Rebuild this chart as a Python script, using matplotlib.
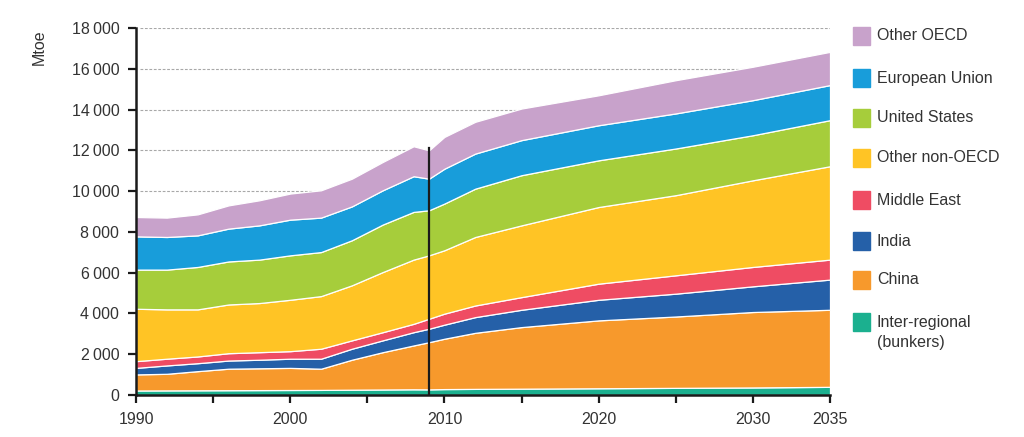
import matplotlib
matplotlib.use("Agg")
import matplotlib.pyplot as plt
from matplotlib.patches import Rectangle

plt.rcParams['font.family'] = ['Liberation Sans', 'DejaVu Sans']

years = [1990, 1992, 1994, 1996, 1998, 2000, 2002, 2004, 2006, 2008, 2009,
         2010, 2012, 2015, 2020, 2025, 2030, 2035]

bunkers = [220, 225, 230, 235, 240, 245, 250, 260, 270, 280, 275,
           290, 300, 310, 330, 350, 370, 400]
china = [790, 815, 940, 1055, 1070, 1085, 1040, 1470, 1830, 2150, 2315,
         2470, 2750, 3020, 3330, 3500, 3700, 3780]
india = [320, 410, 390, 400, 420, 450, 490, 540, 580, 650, 660,
         690, 770, 850, 1010, 1120, 1260, 1480]
middle_east = [330, 330, 330, 360, 370, 370, 490, 410, 400, 410, 490,
               540, 570, 620, 790, 900, 950, 980]
other_non_oecd = [2570, 2420, 2310, 2390, 2410, 2520, 2580, 2700, 2950, 3150, 3110,
                  3110, 3360, 3520, 3760, 3930, 4250, 4580]
united_states = [1920, 1950, 2080, 2110, 2130, 2180, 2160, 2210, 2330, 2340, 2210,
                 2290, 2370, 2460, 2290, 2290, 2210, 2260]
european_union = [1630, 1600, 1550, 1610, 1680, 1750, 1690, 1660, 1680, 1750, 1550,
                  1710, 1720, 1720, 1720, 1720, 1720, 1720]
other_oecd = [950, 950, 1030, 1140, 1230, 1280, 1340, 1360, 1390, 1470, 1390,
              1560, 1560, 1550, 1470, 1630, 1640, 1630]

labels = ["Inter-regional\n(bunkers)", "China", "India", "Middle East",
          "Other non-OECD", "United States", "European Union", "Other OECD"]
colors = ["#1bb08f", "#f7992c", "#2560a8", "#ef4c63",
          "#ffc425", "#a6cd3b", "#189dda", "#c8a2cb"]

y_ticks = [0, 2000, 4000, 6000, 8000, 10000, 12000, 14000, 16000, 18000]
y_tick_labels = ["0", "2\u2009000", "4\u2009000", "6\u2009000", "8\u2009000",
                 "10\u2009000", "12\u2009000", "14\u2009000", "16\u2009000", "18\u2009000"]
x_ticks = [1990, 1995, 2000, 2005, 2010, 2015, 2020, 2025, 2030, 2035]
x_tick_labels = ["1990", "", "2000", "", "2010", "", "2020", "", "2030", "2035"]
base_year = 2009
base_year_total = 12100

fig = plt.figure(figsize=(10.24, 4.37), dpi=100)
ax = fig.add_axes([136 / 1024, 42 / 437, (830 - 136) / 1024, (395 - 28) / 437])

series = [bunkers, china, india, middle_east, other_non_oecd,
          united_states, european_union, other_oecd]

for yv in y_ticks[1:]:
    ax.axhline(yv, xmin=0.006, color="#a8a8a8", lw=0.8, ls=(0, (2.5, 1.5)), zorder=0.5)

ax.stackplot(years, *series, colors=colors, edgecolor="white",
             linewidth=0.9, zorder=2)

ax.plot([base_year, base_year], [0, base_year_total], color="#1a1a1a",
        lw=1.6, zorder=4)

ax.set_xlim(1990, 2035)
ax.set_ylim(0, 18000)
ax.set_xticks(x_ticks)
ax.set_xticklabels(x_tick_labels)
ax.set_yticks(y_ticks)
ax.set_yticklabels(y_tick_labels)

for s in ["top", "right"]:
    ax.spines[s].set_visible(False)
for s in ["left", "bottom"]:
    ax.spines[s].set_linewidth(1.8)
    ax.spines[s].set_color("#1a1a1a")
    ax.spines[s].set_zorder(5)

ax.tick_params(axis="both", direction="out", length=6, width=1.6,
               color="#1a1a1a", labelsize=11.5, labelcolor="#333333", pad=6)
ax.set_facecolor("none")

fig.text(39 / 1024, 1 - 47 / 437, "Mtoe", rotation=90, ha="center",
         va="center", fontsize=11.5, color="#333333")

# Legend (top to bottom)
leg_y = [36, 78, 118, 158, 200, 241, 280, 322]
for lab, col, yc in zip(labels[::-1], colors[::-1], leg_y):
    fig.patches.append(Rectangle((853 / 1024, 1 - (yc + 9) / 437), 17 / 1024, 18 / 437,
                                 transform=fig.transFigure, color=col, figure=fig))
    if "\n" in lab:
        fig.text(877 / 1024, 1 - yc / 437, lab.split("\n")[0], ha="left",
                 va="center", fontsize=11.5, color="#333333")
        fig.text(877 / 1024, 1 - (yc + 21) / 437, lab.split("\n")[1], ha="left",
                 va="center", fontsize=11.5, color="#333333")
    else:
        fig.text(877 / 1024, 1 - yc / 437, lab, ha="left", va="center",
                 fontsize=11.5, color="#333333")

fig.savefig("out.png", dpi=100)
